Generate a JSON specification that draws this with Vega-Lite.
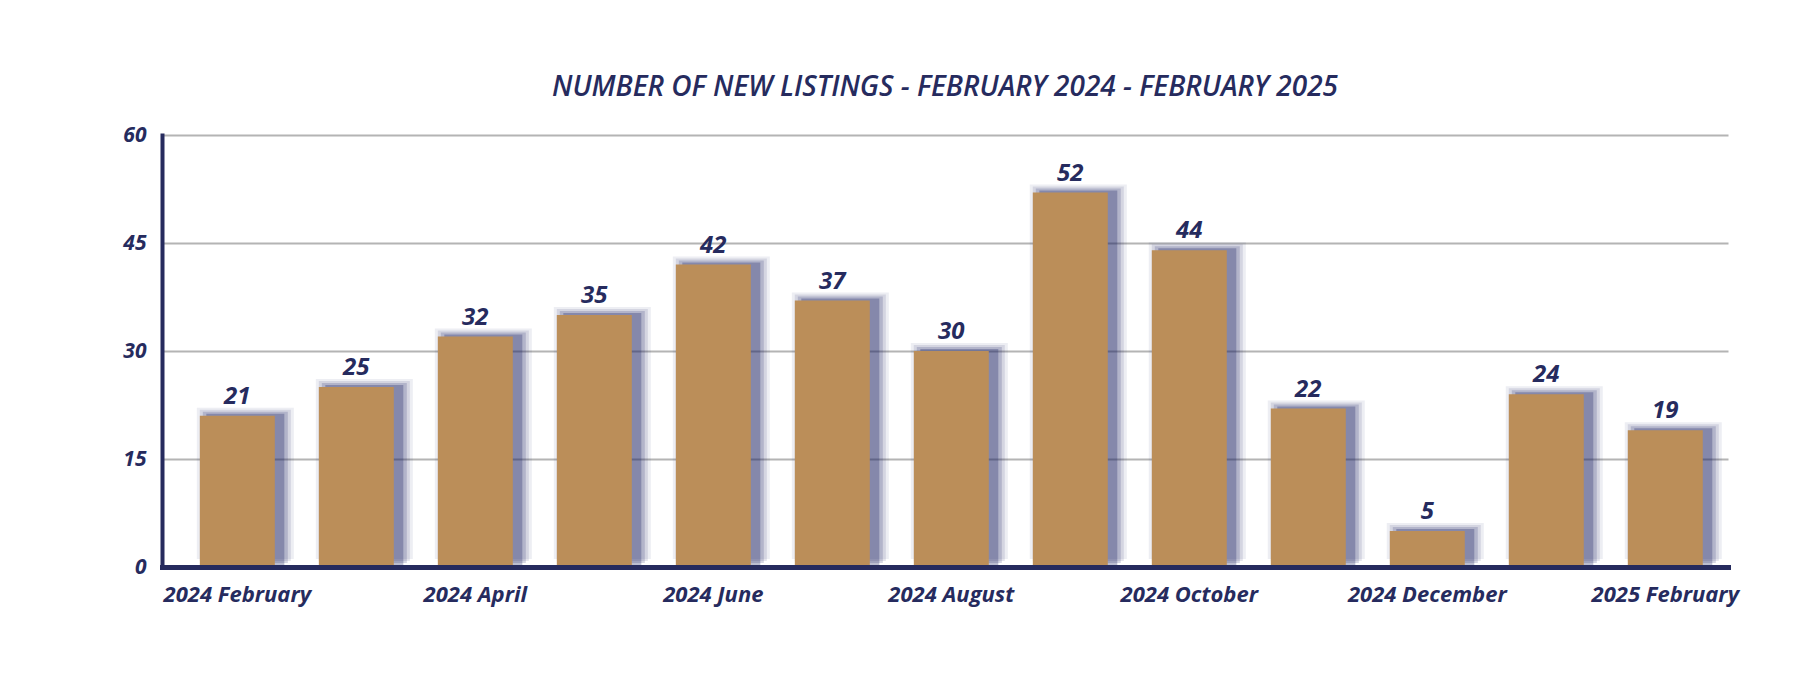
{
  "$schema": "https://vega.github.io/schema/vega-lite/v6.json",
  "width": 1566,
  "height": 432,
  "autosize": {"type": "none"},
  "padding": {"left": 162, "top": 135, "right": 88, "bottom": 109},
  "background": "white",
  "config": {"view": {"stroke": null}},
  "title": {
    "text": "NUMBER OF NEW LISTINGS - FEBRUARY 2024 - FEBRUARY 2025",
    "font": "Open Sans",
    "fontSize": 28,
    "fontStyle": "italic",
    "fontWeight": 600,
    "color": "#262b5e",
    "anchor": "middle",
    "baseline": "alphabetic",
    "offset": 0
  },
  "data": {
    "values": [
      {"month": "2024 February", "listings": 21},
      {"month": "2024 March", "listings": 25},
      {"month": "2024 April", "listings": 32},
      {"month": "2024 May", "listings": 35},
      {"month": "2024 June", "listings": 42},
      {"month": "2024 July", "listings": 37},
      {"month": "2024 August", "listings": 30},
      {"month": "2024 September", "listings": 52},
      {"month": "2024 October", "listings": 44},
      {"month": "2024 November", "listings": 22},
      {"month": "2024 December", "listings": 5},
      {"month": "2025 January", "listings": 24},
      {"month": "2025 February", "listings": 19}
    ]
  },
  "encoding": {
    "x": {
      "field": "month",
      "type": "ordinal",
      "sort": null,
      "scale": {"paddingInner": 0.37, "paddingOuter": 0.265, "align": 0.6},
      "axis": {
        "title": null,
        "values": ["2024 February", "2024 April", "2024 June", "2024 August", "2024 October", "2024 December", "2025 February"],
        "labelAngle": 0,
        "ticks": false,
        "domainColor": "#262b5e",
        "domainWidth": 5,
        "domainCap": "square",
        "labelFont": "Open Sans",
        "labelFontSize": 22,
        "labelFontWeight": "bold",
        "labelFontStyle": "italic",
        "labelColor": "#262b5e",
        "labelPadding": 17,
        "zindex": 1
      }
    },
    "y": {
      "field": "listings",
      "type": "quantitative",
      "scale": {"domain": [0, 60], "nice": false},
      "axis": {
        "title": null,
        "values": [0, 15, 30, 45, 60],
        "ticks": false,
        "grid": true,
        "gridColor": "#b4b4b4",
        "gridWidth": 2,
        "domainColor": "#262b5e",
        "domainWidth": 4,
        "domainCap": "square",
        "labelFont": "Open Sans",
        "labelFontSize": 21,
        "labelFontWeight": "bold",
        "labelFontStyle": "italic",
        "labelColor": "#262b5e",
        "labelPadding": 16
      }
    }
  },
  "layer": [
    {"mark": {"type": "bar", "color": "#1e2462", "opacity": 0.08, "width": 97, "xOffset": 8, "yOffset": -8, "y2Offset": 0}},
    {"mark": {"type": "bar", "color": "#1e2462", "opacity": 0.12, "width": 91, "xOffset": 8, "yOffset": -6, "y2Offset": -2}},
    {"mark": {"type": "bar", "color": "#1e2462", "opacity": 0.18, "width": 85, "xOffset": 8, "yOffset": -4, "y2Offset": -4}},
    {"mark": {"type": "bar", "color": "#1e2462", "opacity": 0.3, "width": 78, "xOffset": 8, "yOffset": -2, "y2Offset": -6}},
    {"mark": {"type": "bar", "color": "#bb8e59"}},
    {
      "mark": {"type": "text", "font": "Open Sans", "fontSize": 24, "fontWeight": "bold", "fontStyle": "italic", "color": "#262b5e", "baseline": "alphabetic", "dy": -12},
      "encoding": {"text": {"field": "listings", "type": "quantitative"}}
    }
  ]
}
